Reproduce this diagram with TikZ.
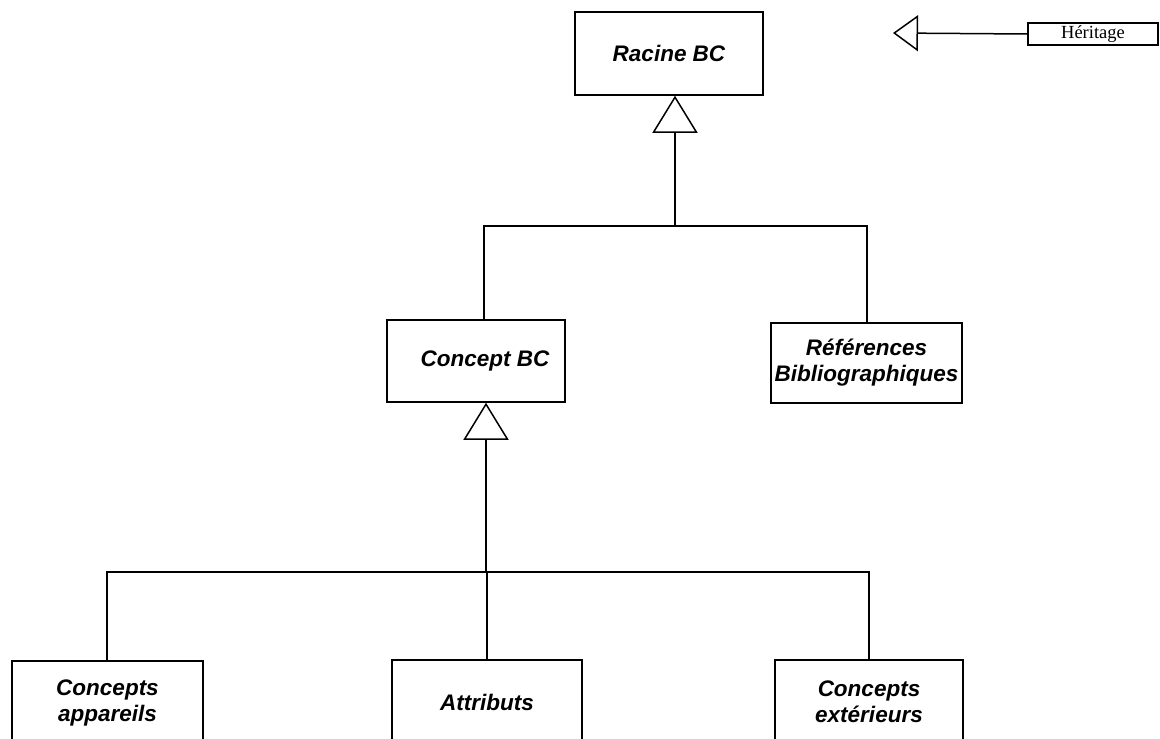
\documentclass[tikz,border=0pt]{standalone}
\usepackage{fontspec}
\setmainfont{Liberation Serif}
\setsansfont{Liberation Sans}
\usetikzlibrary{arrows.meta}

\tikzset{
  classbox/.style={draw, line width=1.5pt, fill=white, inner sep=0pt, align=center,
    font=\sffamily\bfseries\itshape\fontsize{22.5}{26}\selectfont},
  classtext/.style={inner sep=0pt, align=center,
    font=\sffamily\bfseries\itshape\fontsize{22.5}{26}\selectfont},
  legendbox/.style={draw, line width=1.2pt, inner sep=0pt, minimum width=130, minimum height=22,
    font=\fontsize{18.5}{20}\selectfont},
  link/.style={line width=1.5pt},
  inherit/.style={line width=1.5pt, -{Triangle[open, length=37pt, width=45pt, line width=1.5pt]}},
  legendarrow/.style={line width=1.5pt, -{Triangle[open, length=25pt, width=36pt, line width=1.5pt]}},
}

\begin{document}
\begin{tikzpicture}[x=1pt, y=-1pt]
  \clip (0,0) rectangle (1160,739);
  \fill[white] (0,0) rectangle (1160,739);

  % class boxes
  \node[classbox, minimum width=188, minimum height=83] (root) at (669,53.5) {Racine BC};
  \node[classbox, minimum width=178, minimum height=82] (concept) at (476,361) {};
  \node[classtext] (conceptname) at (485,361) {Concept BC};
  \node[classbox, minimum width=191, minimum height=80] (refs) at (866.5,363) {Références\\Bibliographiques};
  \node[classbox, minimum width=191, minimum height=84] (appareils) at (107.5,703) {Concepts\\appareils};
  \node[classbox, minimum width=190, minimum height=84] (attributs) at (487,702) {Attributs};
  \node[classbox, minimum width=188, minimum height=84] (exterieurs) at (869,702) {Concepts\\extérieurs};

  % upper inheritance tree
  \coordinate (j1) at (675,226);
  \coordinate (jc) at (484,226);
  \coordinate (jr) at (867,226);
  \draw[inherit] (j1) -- (j1 |- root.south);
  \draw[link] (jc |- concept.north) -- (jc) -- (jr) -- (jr |- refs.north);

  % lower inheritance tree
  \coordinate (j2) at (486,572);
  \coordinate (ja) at (107,572);
  \coordinate (je) at (869,572);
  \draw[inherit] (j2) -- (j2 |- concept.south);
  \draw[link] (ja |- appareils.north) -- (ja) -- (je) -- (je |- exterieurs.north);
  \draw[link] (attributs.north) -- (attributs.north |- j2);

  % legend
  \node[legendbox] (legend) at (1093,34) {Héritage};
  \coordinate (legtip) at (893,33);
  \draw[legendarrow] (legend.west) -- (legtip);
\end{tikzpicture}
\end{document}
